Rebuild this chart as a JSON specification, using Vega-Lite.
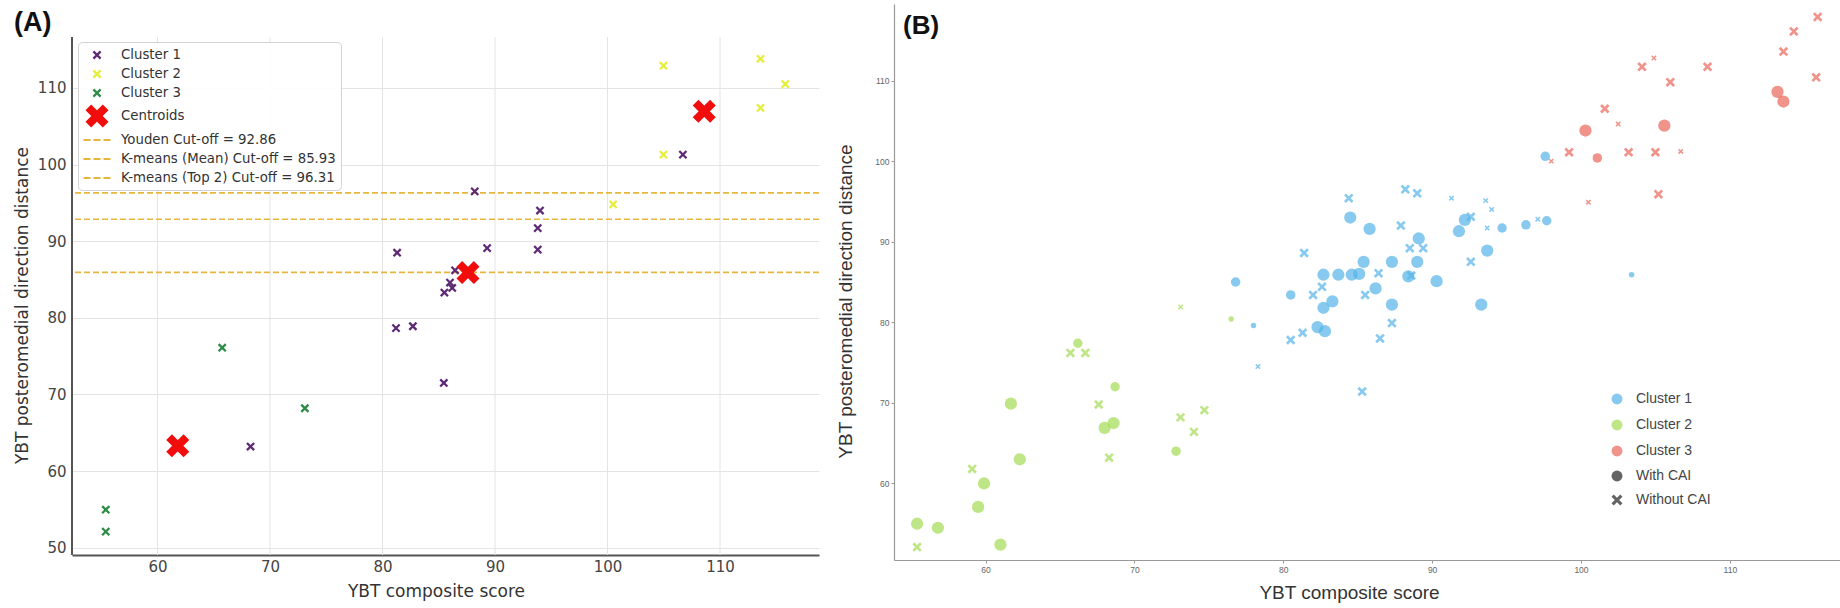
{
  "$schema": "https://vega.github.io/schema/vega-lite/v6.json",
  "background": "white",
  "padding": {"left": 13, "top": 4, "right": 5, "bottom": 0},
  "spacing": 16,
  "columns": 2,
  "align": "none",
  "config": {"view": {"stroke": null}, "font": "DejaVu Sans"},
  "resolve": {
    "scale": {"color": "independent", "shape": "independent", "size": "independent", "x": "independent", "y": "independent"},
    "legend": {"color": "independent", "shape": "independent", "size": "independent"}
  },
  "datasets": {
    "xgrid": [{"x": 60}, {"x": 70}, {"x": 80}, {"x": 90}, {"x": 100}, {"x": 110}],
    "kmeans": [
      {"x": 68.27, "y": 63.2, "series": "Cluster 1"},
      {"x": 81.2, "y": 78.65, "series": "Cluster 1"},
      {"x": 82.7, "y": 78.9, "series": "Cluster 1"},
      {"x": 85.45, "y": 71.5, "series": "Cluster 1"},
      {"x": 85.5, "y": 83.3, "series": "Cluster 1"},
      {"x": 86.2, "y": 83.9, "series": "Cluster 1"},
      {"x": 86.0, "y": 84.6, "series": "Cluster 1"},
      {"x": 86.45, "y": 86.2, "series": "Cluster 1"},
      {"x": 81.3, "y": 88.5, "series": "Cluster 1"},
      {"x": 89.3, "y": 89.1, "series": "Cluster 1"},
      {"x": 88.2, "y": 96.5, "series": "Cluster 1"},
      {"x": 94.0, "y": 94.0, "series": "Cluster 1"},
      {"x": 93.8, "y": 91.7, "series": "Cluster 1"},
      {"x": 93.8, "y": 88.9, "series": "Cluster 1"},
      {"x": 106.7, "y": 101.3, "series": "Cluster 1"},
      {"x": 100.5, "y": 94.8, "series": "Cluster 2"},
      {"x": 104.97, "y": 112.9, "series": "Cluster 2"},
      {"x": 113.6, "y": 113.8, "series": "Cluster 2"},
      {"x": 115.8, "y": 110.5, "series": "Cluster 2"},
      {"x": 113.6, "y": 107.4, "series": "Cluster 2"},
      {"x": 104.97, "y": 101.3, "series": "Cluster 2"},
      {"x": 55.4, "y": 54.96, "series": "Cluster 3"},
      {"x": 55.4, "y": 52.1, "series": "Cluster 3"},
      {"x": 65.75, "y": 76.1, "series": "Cluster 3"},
      {"x": 73.1, "y": 68.2, "series": "Cluster 3"},
      {"x": 61.8, "y": 63.3, "series": "Centroids"},
      {"x": 87.6, "y": 85.9, "series": "Centroids"},
      {"x": 108.6, "y": 106.95, "series": "Centroids"}
    ],
    "cuts": [
      {"y": 92.86, "series": "Youden Cut-off = 92.86"},
      {"y": 85.93, "series": "K-means (Mean) Cut-off = 85.93"},
      {"y": 96.31, "series": "K-means (Top 2) Cut-off = 96.31"}
    ],
    "cai": [
      {"x": 55.4, "y": 55.0, "cluster": "Cluster 2", "cai": "With CAI", "w": 3},
      {"x": 56.8, "y": 54.5, "cluster": "Cluster 2", "cai": "With CAI", "w": 3},
      {"x": 61.0, "y": 52.4, "cluster": "Cluster 2", "cai": "With CAI", "w": 3},
      {"x": 59.5, "y": 57.1, "cluster": "Cluster 2", "cai": "With CAI", "w": 3},
      {"x": 59.9, "y": 60.0, "cluster": "Cluster 2", "cai": "With CAI", "w": 3},
      {"x": 61.7, "y": 69.9, "cluster": "Cluster 2", "cai": "With CAI", "w": 3},
      {"x": 62.3, "y": 63.0, "cluster": "Cluster 2", "cai": "With CAI", "w": 3},
      {"x": 66.2, "y": 77.4, "cluster": "Cluster 2", "cai": "With CAI", "w": 2},
      {"x": 68.7, "y": 72.0, "cluster": "Cluster 2", "cai": "With CAI", "w": 2},
      {"x": 68.0, "y": 66.9, "cluster": "Cluster 2", "cai": "With CAI", "w": 3},
      {"x": 68.6, "y": 67.5, "cluster": "Cluster 2", "cai": "With CAI", "w": 3},
      {"x": 72.8, "y": 64.0, "cluster": "Cluster 2", "cai": "With CAI", "w": 2},
      {"x": 76.5, "y": 80.4, "cluster": "Cluster 2", "cai": "With CAI", "w": 1},
      {"x": 55.4, "y": 52.1, "cluster": "Cluster 2", "cai": "Without CAI", "w": 2},
      {"x": 59.1, "y": 61.8, "cluster": "Cluster 2", "cai": "Without CAI", "w": 2},
      {"x": 65.7, "y": 76.2, "cluster": "Cluster 2", "cai": "Without CAI", "w": 2},
      {"x": 66.7, "y": 76.2, "cluster": "Cluster 2", "cai": "Without CAI", "w": 2},
      {"x": 67.6, "y": 69.8, "cluster": "Cluster 2", "cai": "Without CAI", "w": 2},
      {"x": 68.3, "y": 63.2, "cluster": "Cluster 2", "cai": "Without CAI", "w": 2},
      {"x": 73.1, "y": 81.9, "cluster": "Cluster 2", "cai": "Without CAI", "w": 1},
      {"x": 73.1, "y": 68.2, "cluster": "Cluster 2", "cai": "Without CAI", "w": 2},
      {"x": 74.0, "y": 66.4, "cluster": "Cluster 2", "cai": "Without CAI", "w": 2},
      {"x": 74.7, "y": 69.1, "cluster": "Cluster 2", "cai": "Without CAI", "w": 2},
      {"x": 76.8, "y": 85.0, "cluster": "Cluster 1", "cai": "With CAI", "w": 2},
      {"x": 78.0, "y": 79.6, "cluster": "Cluster 1", "cai": "With CAI", "w": 1},
      {"x": 80.5, "y": 83.4, "cluster": "Cluster 1", "cai": "With CAI", "w": 2},
      {"x": 82.3, "y": 79.4, "cluster": "Cluster 1", "cai": "With CAI", "w": 3},
      {"x": 82.8, "y": 78.9, "cluster": "Cluster 1", "cai": "With CAI", "w": 3},
      {"x": 82.7, "y": 81.8, "cluster": "Cluster 1", "cai": "With CAI", "w": 3},
      {"x": 83.3, "y": 82.6, "cluster": "Cluster 1", "cai": "With CAI", "w": 3},
      {"x": 82.7, "y": 85.9, "cluster": "Cluster 1", "cai": "With CAI", "w": 3},
      {"x": 83.7, "y": 85.9, "cluster": "Cluster 1", "cai": "With CAI", "w": 3},
      {"x": 84.6, "y": 85.9, "cluster": "Cluster 1", "cai": "With CAI", "w": 3},
      {"x": 85.1, "y": 86.0, "cluster": "Cluster 1", "cai": "With CAI", "w": 3},
      {"x": 84.5, "y": 93.0, "cluster": "Cluster 1", "cai": "With CAI", "w": 3},
      {"x": 85.8, "y": 91.6, "cluster": "Cluster 1", "cai": "With CAI", "w": 3},
      {"x": 85.4, "y": 87.5, "cluster": "Cluster 1", "cai": "With CAI", "w": 3},
      {"x": 87.3, "y": 87.5, "cluster": "Cluster 1", "cai": "With CAI", "w": 3},
      {"x": 89.0, "y": 87.5, "cluster": "Cluster 1", "cai": "With CAI", "w": 3},
      {"x": 89.1, "y": 90.4, "cluster": "Cluster 1", "cai": "With CAI", "w": 3},
      {"x": 88.4, "y": 85.7, "cluster": "Cluster 1", "cai": "With CAI", "w": 3},
      {"x": 90.3, "y": 85.1, "cluster": "Cluster 1", "cai": "With CAI", "w": 3},
      {"x": 86.2, "y": 84.2, "cluster": "Cluster 1", "cai": "With CAI", "w": 3},
      {"x": 87.3, "y": 82.2, "cluster": "Cluster 1", "cai": "With CAI", "w": 3},
      {"x": 91.8, "y": 91.3, "cluster": "Cluster 1", "cai": "With CAI", "w": 3},
      {"x": 92.2, "y": 92.7, "cluster": "Cluster 1", "cai": "With CAI", "w": 3},
      {"x": 93.7, "y": 88.9, "cluster": "Cluster 1", "cai": "With CAI", "w": 3},
      {"x": 93.3, "y": 82.2, "cluster": "Cluster 1", "cai": "With CAI", "w": 3},
      {"x": 94.7, "y": 91.7, "cluster": "Cluster 1", "cai": "With CAI", "w": 2},
      {"x": 96.3, "y": 92.1, "cluster": "Cluster 1", "cai": "With CAI", "w": 2},
      {"x": 97.7, "y": 92.6, "cluster": "Cluster 1", "cai": "With CAI", "w": 2},
      {"x": 97.6, "y": 100.6, "cluster": "Cluster 1", "cai": "With CAI", "w": 2},
      {"x": 103.4, "y": 85.9, "cluster": "Cluster 1", "cai": "With CAI", "w": 1},
      {"x": 78.3, "y": 74.5, "cluster": "Cluster 1", "cai": "Without CAI", "w": 1},
      {"x": 81.4, "y": 88.6, "cluster": "Cluster 1", "cai": "Without CAI", "w": 2},
      {"x": 82.0, "y": 83.4, "cluster": "Cluster 1", "cai": "Without CAI", "w": 2},
      {"x": 80.5, "y": 77.8, "cluster": "Cluster 1", "cai": "Without CAI", "w": 2},
      {"x": 81.3, "y": 78.7, "cluster": "Cluster 1", "cai": "Without CAI", "w": 2},
      {"x": 82.6, "y": 84.4, "cluster": "Cluster 1", "cai": "Without CAI", "w": 2},
      {"x": 84.4, "y": 95.4, "cluster": "Cluster 1", "cai": "Without CAI", "w": 2},
      {"x": 88.2, "y": 96.5, "cluster": "Cluster 1", "cai": "Without CAI", "w": 2},
      {"x": 89.0, "y": 96.0, "cluster": "Cluster 1", "cai": "Without CAI", "w": 2},
      {"x": 91.3, "y": 95.4, "cluster": "Cluster 1", "cai": "Without CAI", "w": 1},
      {"x": 87.9, "y": 92.0, "cluster": "Cluster 1", "cai": "Without CAI", "w": 2},
      {"x": 88.5, "y": 89.2, "cluster": "Cluster 1", "cai": "Without CAI", "w": 2},
      {"x": 89.4, "y": 89.2, "cluster": "Cluster 1", "cai": "Without CAI", "w": 2},
      {"x": 86.4, "y": 86.1, "cluster": "Cluster 1", "cai": "Without CAI", "w": 2},
      {"x": 88.6, "y": 85.8, "cluster": "Cluster 1", "cai": "Without CAI", "w": 2},
      {"x": 85.5, "y": 83.4, "cluster": "Cluster 1", "cai": "Without CAI", "w": 2},
      {"x": 87.3, "y": 79.9, "cluster": "Cluster 1", "cai": "Without CAI", "w": 2},
      {"x": 86.5, "y": 78.0, "cluster": "Cluster 1", "cai": "Without CAI", "w": 2},
      {"x": 85.3, "y": 71.4, "cluster": "Cluster 1", "cai": "Without CAI", "w": 2},
      {"x": 92.6, "y": 93.1, "cluster": "Cluster 1", "cai": "Without CAI", "w": 2},
      {"x": 93.6, "y": 95.1, "cluster": "Cluster 1", "cai": "Without CAI", "w": 1},
      {"x": 94.0, "y": 94.0, "cluster": "Cluster 1", "cai": "Without CAI", "w": 1},
      {"x": 93.7, "y": 91.7, "cluster": "Cluster 1", "cai": "Without CAI", "w": 1},
      {"x": 92.6, "y": 87.5, "cluster": "Cluster 1", "cai": "Without CAI", "w": 2},
      {"x": 97.1, "y": 92.8, "cluster": "Cluster 1", "cai": "Without CAI", "w": 1},
      {"x": 100.3, "y": 103.8, "cluster": "Cluster 3", "cai": "With CAI", "w": 3},
      {"x": 101.1, "y": 100.4, "cluster": "Cluster 3", "cai": "With CAI", "w": 2},
      {"x": 105.6, "y": 104.4, "cluster": "Cluster 3", "cai": "With CAI", "w": 3},
      {"x": 113.2, "y": 108.6, "cluster": "Cluster 3", "cai": "With CAI", "w": 3},
      {"x": 113.6, "y": 107.4, "cluster": "Cluster 3", "cai": "With CAI", "w": 3},
      {"x": 98.0, "y": 100.0, "cluster": "Cluster 3", "cai": "Without CAI", "w": 1},
      {"x": 99.2, "y": 101.1, "cluster": "Cluster 3", "cai": "Without CAI", "w": 2},
      {"x": 101.6, "y": 106.5, "cluster": "Cluster 3", "cai": "Without CAI", "w": 2},
      {"x": 102.5, "y": 104.6, "cluster": "Cluster 3", "cai": "Without CAI", "w": 1},
      {"x": 100.5, "y": 94.9, "cluster": "Cluster 3", "cai": "Without CAI", "w": 1},
      {"x": 103.2, "y": 101.1, "cluster": "Cluster 3", "cai": "Without CAI", "w": 2},
      {"x": 104.1, "y": 111.7, "cluster": "Cluster 3", "cai": "Without CAI", "w": 2},
      {"x": 104.9, "y": 112.8, "cluster": "Cluster 3", "cai": "Without CAI", "w": 1},
      {"x": 105.0, "y": 101.1, "cluster": "Cluster 3", "cai": "Without CAI", "w": 2},
      {"x": 105.2, "y": 95.9, "cluster": "Cluster 3", "cai": "Without CAI", "w": 2},
      {"x": 106.0, "y": 109.8, "cluster": "Cluster 3", "cai": "Without CAI", "w": 2},
      {"x": 106.7, "y": 101.2, "cluster": "Cluster 3", "cai": "Without CAI", "w": 1},
      {"x": 108.5, "y": 111.7, "cluster": "Cluster 3", "cai": "Without CAI", "w": 2},
      {"x": 113.6, "y": 113.6, "cluster": "Cluster 3", "cai": "Without CAI", "w": 2},
      {"x": 114.3, "y": 116.1, "cluster": "Cluster 3", "cai": "Without CAI", "w": 2},
      {"x": 115.9, "y": 117.9, "cluster": "Cluster 3", "cai": "Without CAI", "w": 2},
      {"x": 115.8, "y": 110.4, "cluster": "Cluster 3", "cai": "Without CAI", "w": 2}
    ]
  },
  "concat": [
    {
      "width": 747,
      "height": 551,
      "title": {"text": "(A)", "anchor": "start", "frame": "group", "dx": -58, "offset": -33, "fontSize": 27, "fontWeight": "bold", "font": "Liberation Sans", "color": "#111111"},
      "layer": [
        {
          "data": {"name": "xgrid"},
          "mark": {"type": "rule", "color": "#e4e4e4", "strokeWidth": 1},
          "encoding": {
            "x": {
              "field": "x", "type": "quantitative",
              "scale": {"domain": [52.4, 118.8], "nice": false, "zero": false},
              "axis": {
                "title": "YBT composite score",
                "values": [60, 70, 80, 90, 100, 110],
                "grid": false,
                "ticks": false, "domainColor": "#555555", "domainWidth": 2,
                "labelFont": "DejaVu Sans", "labelFontSize": 15, "labelColor": "#444444", "labelPadding": 4,
                "titleFont": "DejaVu Sans", "titleFontSize": 17, "titleFontWeight": "normal", "titleColor": "#333333", "titlePadding": 9, "titleX": 364
              }
            },
            "y": {
              "datum": 49.05, "type": "quantitative",
              "scale": {"domain": [49.05, 120.95], "nice": false, "zero": false},
              "axis": {
                "title": "YBT posteromedial direction distance",
                "values": [50, 60, 70, 80, 90, 100, 110],
                "grid": true, "gridColor": "#e4e4e4", "gridWidth": 1,
                "ticks": false, "domain": false,
                "labelFont": "DejaVu Sans", "labelFontSize": 15, "labelColor": "#444444", "labelPadding": 6,
                "titleFont": "DejaVu Sans", "titleFontSize": 17, "titleFontWeight": "normal", "titleColor": "#333333", "titlePadding": 6, "titleY": 301
              }
            },
            "y2": {"datum": 116.65}
          }
        },
        {
          "data": {"name": "cuts"},
          "mark": {"type": "rule", "strokeDash": [6, 3], "strokeWidth": 1.6, "color": "#e8b63e"},
          "encoding": {
            "y": {
              "field": "y", "type": "quantitative",
              "scale": {"domain": [49.05, 120.95], "nice": false, "zero": false},
              "axis": {
                "title": "YBT posteromedial direction distance",
                "values": [50, 60, 70, 80, 90, 100, 110],
                "grid": true, "gridColor": "#e4e4e4", "gridWidth": 1,
                "ticks": false, "domain": false,
                "labelFont": "DejaVu Sans", "labelFontSize": 15, "labelColor": "#444444", "labelPadding": 6,
                "titleFont": "DejaVu Sans", "titleFontSize": 17, "titleFontWeight": "normal", "titleColor": "#333333", "titlePadding": 6, "titleY": 301
              }
            }
          }
        },
        {
          "data": {"name": "cuts"},
          "mark": {"type": "rule", "color": "#555555", "strokeWidth": 2},
          "encoding": {
            "x": {
              "datum": 52.4, "type": "quantitative",
              "scale": {"domain": [52.4, 118.8], "nice": false, "zero": false},
              "axis": {
                "title": "YBT composite score",
                "values": [60, 70, 80, 90, 100, 110],
                "grid": false,
                "ticks": false, "domainColor": "#555555", "domainWidth": 2,
                "labelFont": "DejaVu Sans", "labelFontSize": 15, "labelColor": "#444444", "labelPadding": 4,
                "titleFont": "DejaVu Sans", "titleFontSize": 17, "titleFontWeight": "normal", "titleColor": "#333333", "titlePadding": 9, "titleX": 364
              }
            },
            "y": {
              "datum": 49.05, "type": "quantitative",
              "scale": {"domain": [49.05, 120.95], "nice": false, "zero": false},
              "axis": {
                "title": "YBT posteromedial direction distance",
                "values": [50, 60, 70, 80, 90, 100, 110],
                "grid": true, "gridColor": "#e4e4e4", "gridWidth": 1,
                "ticks": false, "domain": false,
                "labelFont": "DejaVu Sans", "labelFontSize": 15, "labelColor": "#444444", "labelPadding": 6,
                "titleFont": "DejaVu Sans", "titleFontSize": 17, "titleFontWeight": "normal", "titleColor": "#333333", "titlePadding": 6, "titleY": 301
              }
            },
            "y2": {"datum": 116.65}
          }
        },
        {
          "data": {"name": "kmeans"},
          "mark": {"type": "point", "filled": true, "size": 256, "opacity": 1},
          "encoding": {
            "x": {
              "field": "x", "type": "quantitative",
              "scale": {"domain": [52.4, 118.8], "nice": false, "zero": false},
              "axis": {
                "title": "YBT composite score",
                "values": [60, 70, 80, 90, 100, 110],
                "grid": false,
                "ticks": false, "domainColor": "#555555", "domainWidth": 2,
                "labelFont": "DejaVu Sans", "labelFontSize": 15, "labelColor": "#444444", "labelPadding": 4,
                "titleFont": "DejaVu Sans", "titleFontSize": 17, "titleFontWeight": "normal", "titleColor": "#333333", "titlePadding": 9, "titleX": 364
              }
            },
            "y": {
              "field": "y", "type": "quantitative",
              "scale": {"domain": [49.05, 120.95], "nice": false, "zero": false},
              "axis": {
                "title": "YBT posteromedial direction distance",
                "values": [50, 60, 70, 80, 90, 100, 110],
                "grid": true, "gridColor": "#e4e4e4", "gridWidth": 1,
                "ticks": false, "domain": false,
                "labelFont": "DejaVu Sans", "labelFontSize": 15, "labelColor": "#444444", "labelPadding": 6,
                "titleFont": "DejaVu Sans", "titleFontSize": 17, "titleFontWeight": "normal", "titleColor": "#333333", "titlePadding": 6, "titleY": 301
              }
            },
            "color": {
              "field": "series", "type": "nominal",
              "scale": {
                "domain": ["Cluster 1", "Cluster 2", "Cluster 3", "Centroids", "Youden Cut-off = 92.86", "K-means (Mean) Cut-off = 85.93", "K-means (Top 2) Cut-off = 96.31"],
                "range": ["#5e2a74", "#e6ee3a", "#2e8b46", "#f20d0d", "#e8b63e", "#e8b63e", "#e8b63e"]
              },
              "legend": {
                "title": null, "orient": "none", "legendX": 6, "legendY": 38, "padding": 5,
                "fillColor": "rgba(255,255,255,0.92)", "strokeColor": "#d2d2d2", "cornerRadius": 4,
                "symbolSize": 256, "symbolStrokeWidth": 0, "symbolOffset": 6,
                "labelFont": "DejaVu Sans", "labelFontSize": 13.3, "labelColor": "#333333", "labelOffset": 16, "labelLimit": 400,
                "rowPadding": 4
              }
            },
            "shape": {
              "field": "series", "type": "nominal",
              "scale": {
                "domain": ["Cluster 1", "Cluster 2", "Cluster 3", "Centroids", "Youden Cut-off = 92.86", "K-means (Mean) Cut-off = 85.93", "K-means (Top 2) Cut-off = 96.31"],
                "range": [
                  "M-0.35,-0.55L0.55,0.35L0.35,0.55L-0.55,-0.35ZM-0.55,0.35L0.35,-0.55L0.55,-0.35L-0.35,0.55Z",
                  "M-0.35,-0.55L0.55,0.35L0.35,0.55L-0.55,-0.35ZM-0.55,0.35L0.35,-0.55L0.55,-0.35L-0.35,0.55Z",
                  "M-0.35,-0.55L0.55,0.35L0.35,0.55L-0.55,-0.35ZM-0.55,0.35L0.35,-0.55L0.55,-0.35L-0.35,0.55Z",
                  "M-0.73,-1.44L1.44,0.73L0.73,1.44L-1.44,-0.73ZM-1.44,0.73L0.73,-1.44L1.44,-0.73L-0.73,1.44Z",
                  "M-1.69,-0.11H-0.815V0.11H-1.69ZM-0.44,-0.11H0.44V0.11H-0.44ZM0.815,-0.11H1.69V0.11H0.815Z",
                  "M-1.69,-0.11H-0.815V0.11H-1.69ZM-0.44,-0.11H0.44V0.11H-0.44ZM0.815,-0.11H1.69V0.11H0.815Z",
                  "M-1.69,-0.11H-0.815V0.11H-1.69ZM-0.44,-0.11H0.44V0.11H-0.44ZM0.815,-0.11H1.69V0.11H0.815Z"
                ]
              }
            }
          }
        }
      ]
    },
    {
      "width": 946,
      "height": 556,
      "title": {"text": "(B)", "anchor": "start", "frame": "group", "dx": 9, "offset": -35, "fontSize": 26, "fontWeight": "bold", "font": "Liberation Sans", "color": "#111111"},
      "data": {"name": "cai"},
      "mark": {"type": "point", "filled": true, "opacity": 0.7},
      "encoding": {
        "x": {
          "field": "x", "type": "quantitative",
          "scale": {"domain": [53.85, 117.4], "nice": false, "zero": false},
          "axis": {
            "title": "YBT composite score",
            "values": [60, 70, 80, 90, 100, 110],
            "grid": false, "domainColor": "#999999", "domainWidth": 1.2,
            "tickColor": "#999999", "tickSize": 3,
            "labelFont": "Liberation Sans", "labelFontSize": 8.5, "labelColor": "#666666", "labelPadding": 2,
            "titleFont": "Liberation Sans", "titleFontSize": 19, "titleFontWeight": "normal", "titleColor": "#333333", "titlePadding": 10, "titleX": 455
          }
        },
        "y": {
          "field": "y", "type": "quantitative",
          "scale": {"domain": [50.5, 119.5], "nice": false, "zero": false},
          "axis": {
            "title": "YBT posteromedial direction distance",
            "values": [60, 70, 80, 90, 100, 110],
            "grid": false, "domainColor": "#999999", "domainWidth": 1.2,
            "tickColor": "#999999", "tickSize": 3,
            "labelFont": "Liberation Sans", "labelFontSize": 8.5, "labelColor": "#666666", "labelPadding": 2,
            "titleFont": "Liberation Sans", "titleFontSize": 19, "titleFontWeight": "normal", "titleColor": "#333333", "titlePadding": 19, "titleY": 297
          }
        },
        "color": {
          "field": "cluster", "type": "nominal",
          "scale": {"domain": ["Cluster 1", "Cluster 2", "Cluster 3"], "range": ["#55b4e8", "#a4dc52", "#e8655a"]},
          "legend": {
            "title": null, "orient": "none", "legendX": 716, "legendY": 388, "padding": 0,
            "symbolType": "circle", "symbolSize": 120, "symbolOpacity": 0.7, "symbolStrokeWidth": 0,
            "labelFont": "Liberation Sans", "labelFontSize": 14, "labelColor": "#444444", "labelOffset": 12,
            "rowPadding": 12
          }
        },
        "shape": {
          "field": "cai", "type": "nominal",
          "scale": {"domain": ["With CAI", "Without CAI"], "range": ["circle", "M-0.6,-1L1,0.6L0.6,1L-1,-0.6ZM-1,0.6L0.6,-1L1,-0.6L-0.6,1Z"]},
          "legend": {
            "title": null, "orient": "none", "legendX": 716, "legendY": 465, "padding": 0,
            "symbolSize": 120, "symbolFillColor": "#222222", "symbolStrokeColor": "#222222", "symbolOpacity": 0.7, "symbolStrokeWidth": 0,
            "labelFont": "Liberation Sans", "labelFontSize": 14, "labelColor": "#444444", "labelOffset": 12,
            "rowPadding": 10
          }
        },
        "size": {
          "field": "w", "type": "quantitative",
          "scale": {"domain": [1, 3], "range": [30, 150]},
          "legend": null
        }
      }
    }
  ]
}
